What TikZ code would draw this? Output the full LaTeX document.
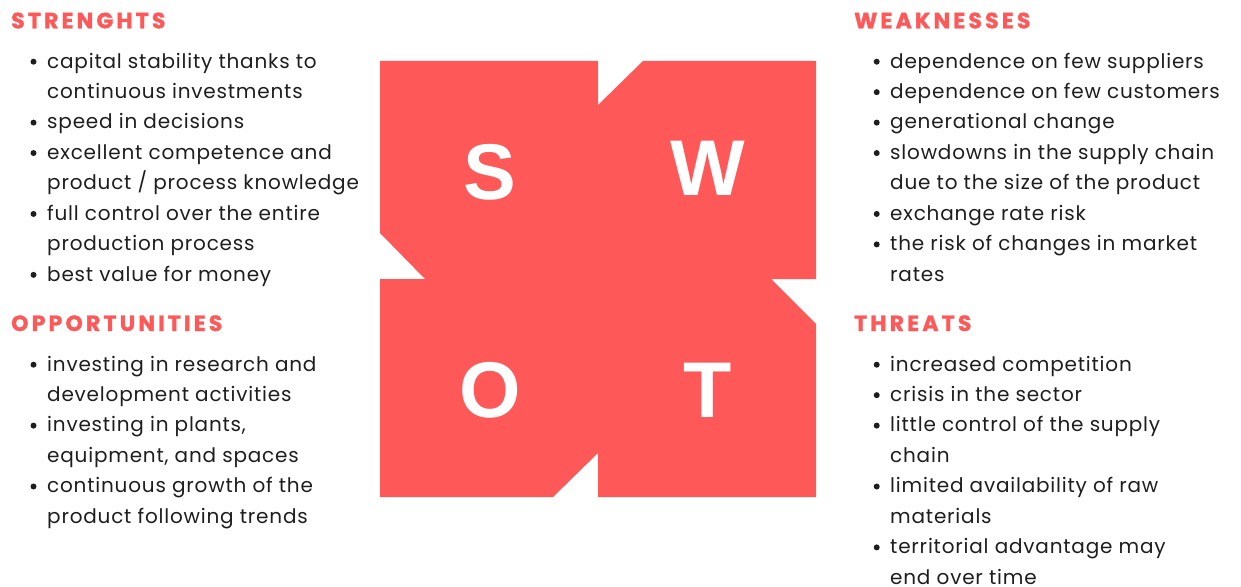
\documentclass[tikz,border=0pt]{standalone}
\usepackage{fontspec}
\setmainfont{Poppins}
\newfontfamily\bodyfont[LetterSpace=4]{Poppins}
\newfontfamily\headfont[LetterSpace=14.5,BoldFeatures={FakeBold=1.3}]{Poppins}
\newfontfamily\letterfont{Liberation Sans}
\definecolor{swotred}{RGB}{255,88,88}
\definecolor{ink}{RGB}{30,30,30}
\tikzset{
  item/.style={anchor=base west, inner sep=0pt, text=ink, font=\bodyfont\fontsize{20}{24}\selectfont},
  head/.style={anchor=base west, inner sep=0pt, text=swotred, font=\headfont\bfseries\fontsize{22}{26}\selectfont},
  dot/.style={circle, fill=ink, inner sep=0pt, minimum size=6pt},
  letter/.style={text=white, font=\letterfont\bfseries\fontsize{79}{80}\selectfont, inner sep=0pt},
}
\begin{document}
\begin{tikzpicture}[x=1pt,y={(0pt,-1pt)}]
\useasboundingbox (0,0) rectangle (1241,586);
% central SWOT shape
\fill[swotred] (380,61) -- (598,61) -- (598,105) -- (643,61) -- (816,61) -- (816,279)
  -- (771,279) -- (816,324) -- (816,497) -- (598,497) -- (598,453) -- (553,497)
  -- (380,497) -- (380,279) -- (425,279) -- (380,233) -- cycle;
\node[letter] (S) at (490,172) {S};
\node[letter] (W) at (708,168) {W};
\node[letter] (O) at (490,390) {O};
\node[letter] (T) at (708,390) {T};
% headings
\node[head] (hs) at (11,28.3) {STRENGHTS};
\node[head] (hw) at (854,28.3) {WEAKNESSES};
\node[head] (ho) at (11,331) {OPPORTUNITIES};
\node[head] (ht) at (854,331) {THREATS};
% strengths
\foreach [count=\i] \b/\t in {1/capital stability thanks to,0/continuous investments,1/speed in decisions,1/excellent competence and,0/{product / process knowledge},1/full control over the entire,0/production process,1/best value for money}{
  \pgfmathsetmacro\yy{68+30.45*(\i-1)}
  \node[item] (s\i) at (47,\yy) {\t};
  \ifnum\b=1 \node[dot] (sb\i) at (33.5,\yy-6.3) {};\fi
}
% weaknesses
\foreach [count=\i] \b/\t in {1/dependence on few suppliers,1/dependence on few customers,1/generational change,1/slowdowns in the supply chain,0/due to the size of the product,1/exchange rate risk,1/the risk of changes in market,0/rates}{
  \pgfmathsetmacro\yy{68+30.45*(\i-1)}
  \node[item] (w\i) at (890,\yy) {\t};
  \ifnum\b=1 \node[dot] (wb\i) at (876.7,\yy-6.3) {};\fi
}
% opportunities
\foreach [count=\i] \b/\t in {1/investing in research and,0/development activities,1/{investing in plants,},0/{equipment, and spaces},1/continuous growth of the,0/product following trends}{
  \pgfmathsetmacro\yy{371+30.45*(\i-1)}
  \node[item] (o\i) at (47,\yy) {\t};
  \ifnum\b=1 \node[dot] (ob\i) at (33.5,\yy-6.3) {};\fi
}
% threats
\foreach [count=\i] \b/\t in {1/increased competition,1/crisis in the sector,1/little control of the supply,0/chain,1/limited availability of raw,0/materials,1/territorial advantage may,0/end over time}{
  \pgfmathsetmacro\yy{371+30.45*(\i-1)}
  \node[item] (t\i) at (890,\yy) {\t};
  \ifnum\b=1 \node[dot] (tb\i) at (876.7,\yy-6.3) {};\fi
}
\end{tikzpicture}
\end{document}
